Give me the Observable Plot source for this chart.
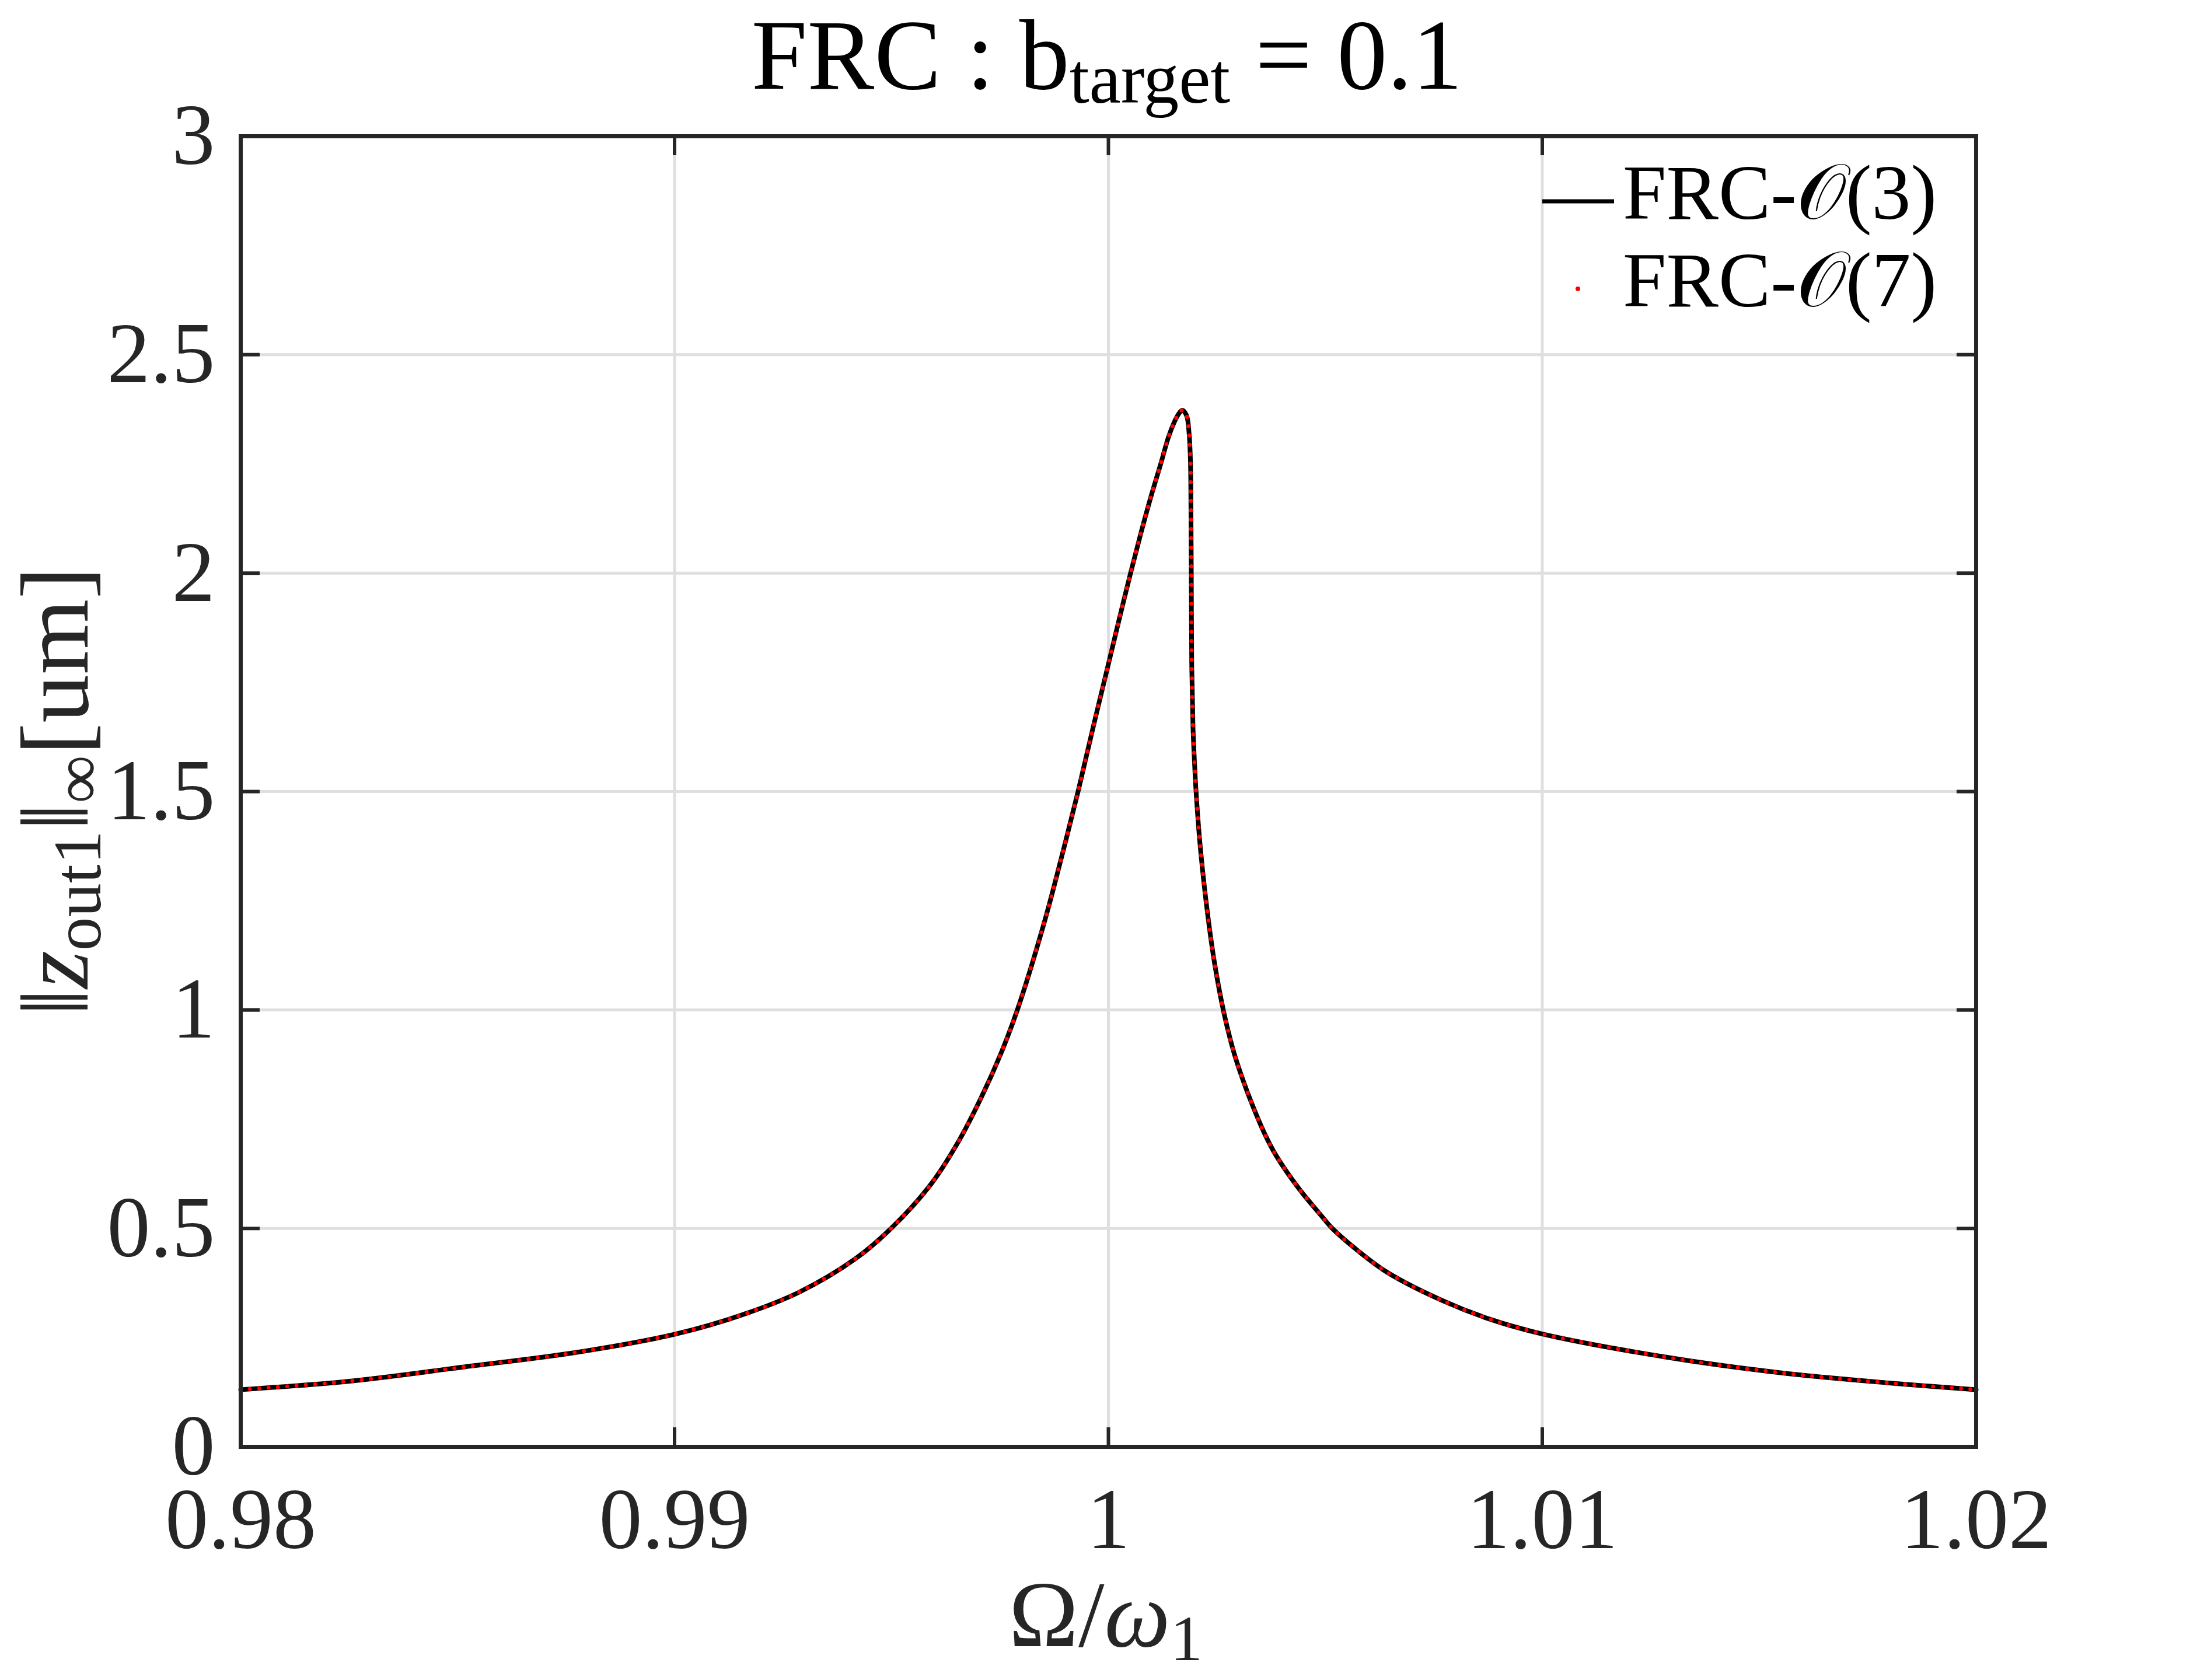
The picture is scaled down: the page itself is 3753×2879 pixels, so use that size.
<!DOCTYPE html>
<html>
<head>
<meta charset="utf-8">
<script src="https://cdn.jsdelivr.net/npm/d3@7"></script>
<script src="https://cdn.jsdelivr.net/npm/@observablehq/plot@0.6"></script>
<style>
  html, body { margin: 0; padding: 0; background: #ffffff; }
  #chart { position: relative; width: 3753px; height: 2879px; }
</style>
</head>
<body>
<div id="chart"></div>
<script>
// ---- data ----
const omega = [
  0.98000, 0.98257, 0.98515, 0.98772, 0.99001, 0.99158, 0.99287, 0.99416, 0.99499, 0.99590,
  0.99655, 0.99707, 0.99752, 0.99790, 0.99852, 0.99892, 0.99930, 0.99965, 1.00000, 1.00025,
  1.00051, 1.00075, 1.00098, 1.00120, 1.00138, 1.00152, 1.00163, 1.00170, 1.00180, 1.00186,
  1.00189, 1.00190, 1.00191, 1.00192, 1.00195, 1.00198, 1.00202, 1.00212, 1.00228, 1.00245,
  1.00267, 1.00290, 1.00310, 1.00330, 1.00360, 1.00387, 1.00440, 1.00490, 1.00516, 1.00580,
  1.00645, 1.00774, 1.00880, 1.01002, 1.01288, 1.01546, 1.01803, 1.02000
];
const ampO3 = [
  0.131, 0.151, 0.183, 0.216, 0.258, 0.303, 0.354, 0.430, 0.500, 0.600,
  0.700, 0.800, 0.900, 1.000, 1.200, 1.350, 1.500, 1.648, 1.792, 1.895,
  2.000, 2.092, 2.175, 2.248, 2.310, 2.346, 2.366, 2.373, 2.361, 2.319,
  2.259, 2.182, 2.000, 1.794, 1.645, 1.575, 1.500, 1.370, 1.225, 1.105,
  0.990, 0.900, 0.840, 0.787, 0.717, 0.666, 0.590, 0.530, 0.500, 0.445,
  0.398, 0.333, 0.292, 0.258, 0.205, 0.170, 0.146, 0.131
];
const ampO7 = [
  0.131, 0.151, 0.183, 0.216, 0.258, 0.303, 0.354, 0.430, 0.500, 0.600,
  0.700, 0.800, 0.900, 1.000, 1.200, 1.350, 1.500, 1.648, 1.792, 1.895,
  2.000, 2.092, 2.175, 2.248, 2.310, 2.346, 2.366, 2.373, 2.361, 2.319,
  2.259, 2.182, 2.000, 1.794, 1.645, 1.575, 1.500, 1.370, 1.225, 1.105,
  0.990, 0.900, 0.840, 0.787, 0.717, 0.666, 0.590, 0.530, 0.500, 0.445,
  0.398, 0.333, 0.292, 0.258, 0.205, 0.170, 0.146, 0.131
];
const xTicks = [0.98, 0.99, 1.00, 1.01, 1.02];
const xTickLabels = ["0.98", "0.99", "1", "1.01", "1.02"];
const yTicks = [0, 0.5, 1, 1.5, 2, 2.5, 3];
const yTickLabels = ["0", "0.5", "1", "1.5", "2", "2.5", "3"];
const seriesNames = ["FRC-\u{1D4AA}(3)", "FRC-\u{1D4AA}(7)"];

// ---- layout ----
const W = 3753, H = 2879;
const mL = 412, mT = 233, mR = W - 3386, mB = H - 2479;
const plotW = W - mL - mR, plotH = H - mT - mB;
const TICK = 33;
const AXIS = "#262626";
const FONT = "'Liberation Serif', 'DejaVu Serif', 'Times New Roman', serif";

const rows3 = omega.map((x, i) => ({x, y: ampO3[i]}));
const rows7 = omega.map((x, i) => ({x, y: ampO7[i]}));

const plot = Plot.plot({
  width: W, height: H,
  marginLeft: mL, marginRight: mR, marginTop: mT, marginBottom: mB,
  style: {fontFamily: FONT, fontSize: "148px", color: AXIS, background: "#ffffff"},
  x: {domain: [0.98, 1.02]},
  y: {domain: [0, 3]},
  marks: [
    Plot.gridX(xTicks, {stroke: "#dfdfdf", strokeOpacity: 1, strokeWidth: 5}),
    Plot.gridY(yTicks, {stroke: "#dfdfdf", strokeOpacity: 1, strokeWidth: 5}),
    Plot.line(rows3, {x: "x", y: "y", stroke: "#000000", strokeWidth: 8, curve: "catmull-rom"}),
    Plot.line(rows7, {x: "x", y: "y", stroke: "#ff0000", strokeWidth: 7, strokeDasharray: "0,16",
                      strokeLinecap: "round", curve: "catmull-rom"}),
    Plot.tickX(xTicks, {x: d => d, stroke: AXIS, strokeWidth: 6, insetTop: plotH - TICK}),
    Plot.tickX(xTicks, {x: d => d, stroke: AXIS, strokeWidth: 6, insetBottom: plotH - TICK}),
    Plot.tickY(yTicks, {y: d => d, stroke: AXIS, strokeWidth: 6, insetRight: plotW - TICK}),
    Plot.tickY(yTicks, {y: d => d, stroke: AXIS, strokeWidth: 6, insetLeft: plotW - TICK}),
    Plot.frame({stroke: AXIS, strokeWidth: 7}),
    Plot.axisX(xTicks, {tickSize: 0, tickPadding: 68, label: null, fill: AXIS, fontSize: 148,
                        tickFormat: d => xTickLabels[xTicks.indexOf(d)]}),
    Plot.axisY(yTicks, {tickSize: 0, tickPadding: 44, label: null, fill: AXIS, fontSize: 148,
                        tickFormat: d => yTickLabels[yTicks.indexOf(d)]})
  ]
});

document.getElementById("chart").appendChild(plot);
const svg = d3.select(plot);

// ---- title ----
const title = svg.append("text")
  .attr("x", 1897).attr("y", 152)
  .attr("text-anchor", "middle")
  .attr("fill", "#000")
  .style("font-family", FONT).style("font-size", "172px");
title.append("tspan").text("FRC : b");
title.append("tspan").attr("dy", 24).style("font-size", "122px").text("target");
title.append("tspan").attr("dy", -24).text(" = 0.1");

// ---- x label ----
const xl = svg.append("text")
  .attr("x", 1895).attr("y", 2821)
  .attr("text-anchor", "middle").attr("fill", AXIS)
  .style("font-family", FONT).style("font-size", "160px");
xl.append("tspan").text("\u03A9/");
xl.append("tspan").style("font-style", "italic").text("\u03C9");
xl.append("tspan").attr("dy", 24).style("font-size", "111px").text("1");

// ---- y label ----
const yl = svg.append("text")
  .attr("transform", "translate(150,1356) rotate(-90)")
  .attr("text-anchor", "middle").attr("fill", AXIS)
  .style("font-family", FONT).style("font-size", "166px");
yl.append("tspan").text("\u2016");
yl.append("tspan").style("font-style", "italic").text("z");
yl.append("tspan").attr("dy", 22).style("font-size", "116px").text("out1");
yl.append("tspan").attr("dy", -22).text("\u2016");
yl.append("tspan").attr("dy", 22).style("font-size", "116px").text("\u221E");
yl.append("tspan").attr("dy", -22).text("[um]");

// ---- legend ----
const lg = svg.append("g")
  .attr("text-anchor", "start")
  .style("font-family", FONT).style("font-size", "134px");
lg.append("line").attr("x1", 2643).attr("x2", 2766).attr("y1", 345).attr("y2", 345)
  .attr("stroke", "#000").attr("stroke-width", 7);
lg.append("text").attr("x", 2781).attr("y", 375).attr("text-anchor", "start")
  .attr("fill", "#000").text(seriesNames[0]);
lg.append("circle").attr("cx", 2704).attr("cy", 495).attr("r", 4).attr("fill", "#ff0000");
lg.append("text").attr("x", 2781).attr("y", 525).attr("text-anchor", "start")
  .attr("fill", "#000").text(seriesNames[1]);
</script>
</body>
</html>
